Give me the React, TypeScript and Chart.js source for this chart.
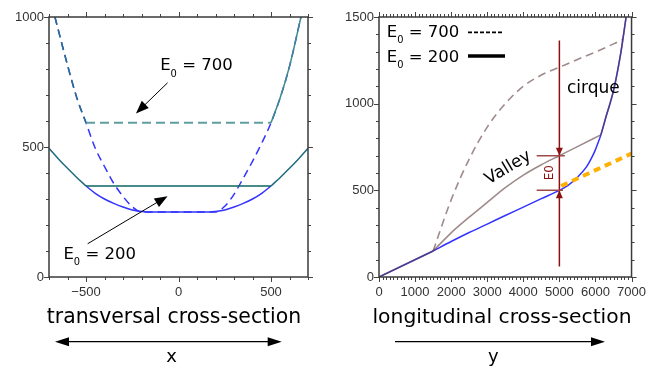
import React, { useEffect, useRef } from "react";
import { Chart, registerables } from "chart.js";
Chart.register(...registerables);

const TICK_FONT = { family: "'Liberation Sans', Arial, sans-serif", size: 13 };
const TXT = "'DejaVu Sans', sans-serif";

// ---------- transversal cross-section (left) ----------
const transXTicks = [-500, 0, 500];
const transYTicks = [0, 500, 1000];
// bedrock for E0 = 700 (blue dashed)
const trans700X = [-668, -600, -550, -500, -450, -400, -350, -300, -250, -200, 0, 200, 250, 300, 350, 400, 450, 500, 550, 600, 662];
const trans700Y = [1000, 815, 690, 593, 495, 425, 360, 310, 270, 250, 250, 250, 272, 318, 380, 445, 515, 593, 690, 810, 1000];
// bedrock for E0 = 200 (blue solid)
const trans200X = [-500, -450, -400, -350, -300, -250, -200, -170, 0, 170, 200, 250, 300, 350, 400, 450, 500];
const trans200Y = [350, 322, 300, 283, 269, 258, 252, 250, 250, 250, 252, 258, 269, 283, 300, 322, 350];
// valley walls, E0 = 200
const wallLX = [-700, -650, -600, -550, -500];
const wallLY = [495, 455, 418, 383, 350];
const wallRX = [500, 550, 600, 650, 700];
const wallRY = [350, 383, 418, 455, 495];
// ice surfaces
const surf200X = [-500, 500];
const surf200Y = [350, 350];
const surf700X = [-500, 500];
const surf700Y = [593, 593];
// valley walls, E0 = 700
const wall700LX = [-668, -600, -550, -500];
const wall700LY = [1000, 815, 690, 593];
const wall700RX = [500, 550, 600, 662];
const wall700RY = [593, 690, 810, 1000];

// ---------- longitudinal cross-section (right) ----------
const longXTicks = [0, 1000, 2000, 3000, 4000, 5000, 6000, 7000];
const longYTicks = [0, 500, 1000, 1500];
const lowerX = [0, 1500];
const lowerY = [0, 150];
const bedX = [1500, 2000, 2500, 3000, 3500, 4000, 4500, 5000, 5250, 5500, 5750, 5900, 6000, 6100, 6150, 6300, 6500, 6700, 6850];
const bedY = [150, 205, 257, 305, 355, 403, 452, 500, 530, 575, 635, 690, 735, 790, 820, 930, 1075, 1290, 1500];
const valley200X = [1500, 2000, 2500, 3000, 3500, 4000, 4500, 5000, 5500, 6150];
const valley200Y = [150, 255, 345, 430, 515, 588, 648, 700, 752, 820];
const cirqueX = [6150, 6300, 6500, 6700, 6850];
const cirqueY = [820, 930, 1075, 1290, 1500];
const valley700X = [1500, 2000, 2500, 3000, 3500, 4000, 4500, 5000, 5500, 6000, 6500, 6765];
const valley700Y = [150, 445, 680, 865, 1000, 1100, 1165, 1210, 1255, 1298, 1345, 1372];
const lineX = [5050, 7000];
const lineY = [525, 712];
const markX = [5000, 5000];
const markY = [60, 1365];
const tickTopX = [4370, 5150];
const tickTopY = [700, 700];
const tickBotX = [4370, 5100];
const tickBotY = [500, 500];

function range(a: number, b: number, s: number) {
  const r: number[] = [];
  for (let v = a; v <= b + 1e-9; v += s) r.push(v);
  return r;
}

function pts(xs: number[], ys: number[]) {
  return xs.map((x, i) => ({ x, y: ys[i] }));
}

function ds(xs: number[], ys: number[], color: string, width: number, dash: number[], order: number, smooth = true) {
  return {
    data: pts(xs, ys),
    borderColor: color,
    borderWidth: width,
    borderDash: dash,
    pointRadius: 0,
    showLine: true,
    fill: false,
    order,
    tension: 0,
    cubicInterpolationMode: smooth ? "monotone" : "default",
  };
}

const fmt = (v: number) => (v < 0 ? "\u2212" + Math.abs(v) : String(v));

function scales(xmin: number, xmax: number, ymin: number, ymax: number, xt: number[], yt: number[]) {
  return {
    x: {
      type: "linear",
      position: "bottom",
      min: xmin,
      max: xmax,
      grid: { display: false, drawTicks: false },
      border: { display: false },
      afterBuildTicks: (s: any) => {
        s.ticks = xt.map((v) => ({ value: v }));
      },
      afterFit: (s: any) => {
        s.height = 30;
      },
      ticks: { font: TICK_FONT, color: "#333", padding: 8, autoSkip: false, maxRotation: 0, minRotation: 0, callback: (v: any) => fmt(Number(v)) },
    },
    y: {
      type: "linear",
      position: "left",
      min: ymin,
      max: ymax,
      grid: { display: false, drawTicks: false },
      border: { display: false },
      afterBuildTicks: (s: any) => {
        s.ticks = yt.map((v) => ({ value: v }));
      },
      afterFit: (s: any) => {
        s.width = 49;
      },
      ticks: { font: TICK_FONT, color: "#333", padding: 5, autoSkip: false, callback: (v: any) => fmt(Number(v)) },
    },
  };
}

function drawFrame(chart: any, xMinor: number[], xMajor: number[], yMinor: number[], yMajor: number[]) {
  const { ctx, chartArea: a } = chart;
  const sx = chart.scales.x;
  const sy = chart.scales.y;
  ctx.save();
  ctx.strokeStyle = "#444";
  ctx.lineWidth = 1;
  ctx.beginPath();
  const xt = (v: number, len: number) => {
    const p = Math.round(sx.getPixelForValue(v)) + 0.5;
    ctx.moveTo(p, a.top);
    ctx.lineTo(p, a.top - len);
    ctx.moveTo(p, a.bottom);
    ctx.lineTo(p, a.bottom + len);
  };
  const yt = (v: number, len: number) => {
    const p = Math.round(sy.getPixelForValue(v)) + 0.5;
    ctx.moveTo(a.left, p);
    ctx.lineTo(a.left - len, p);
    ctx.moveTo(a.right, p);
    ctx.lineTo(a.right + len, p);
  };
  xMinor.forEach((v) => xt(v, 3));
  xMajor.forEach((v) => xt(v, 5));
  yMinor.forEach((v) => yt(v, 3));
  yMajor.forEach((v) => yt(v, 5));
  ctx.stroke();
  ctx.lineWidth = 1.5;
  ctx.strokeStyle = "#3a3a3a";
  ctx.strokeRect(a.left, a.top, a.right - a.left, a.bottom - a.top);
  ctx.restore();
}

function head(ctx: any, x: number, y: number, ang: number, hl: number, hw: number) {
  const c = Math.cos(ang), s = Math.sin(ang);
  ctx.beginPath();
  ctx.moveTo(x, y);
  ctx.lineTo(x - hl * c + hw * s, y - hl * s - hw * c);
  ctx.lineTo(x - hl * c - hw * s, y - hl * s + hw * c);
  ctx.closePath();
  ctx.fill();
}

function arrow(ctx: any, x1: number, y1: number, x2: number, y2: number, hl: number, hw: number, lw: number, color: string, both = false) {
  const ang = Math.atan2(y2 - y1, x2 - x1);
  const c = Math.cos(ang), s = Math.sin(ang);
  ctx.save();
  ctx.strokeStyle = color;
  ctx.fillStyle = color;
  ctx.lineWidth = lw;
  ctx.beginPath();
  const sx = both ? x1 + c * hl * 0.8 : x1;
  const sy = both ? y1 + s * hl * 0.8 : y1;
  ctx.moveTo(sx, sy);
  ctx.lineTo(x2 - c * hl * 0.8, y2 - s * hl * 0.8);
  ctx.stroke();
  head(ctx, x2, y2, ang, hl, hw);
  if (both) head(ctx, x1, y1, ang + Math.PI, hl, hw);
  ctx.restore();
}

function drawE0(ctx: any, x: number, y: number, rest: string, size: number) {
  ctx.save();
  ctx.fillStyle = "#000";
  ctx.textAlign = "left";
  ctx.textBaseline = "alphabetic";
  ctx.font = `${size}px ${TXT}`;
  ctx.fillText("E", x, y);
  let w = ctx.measureText("E").width;
  ctx.font = `${size * 0.6}px ${TXT}`;
  ctx.fillText("0", x + w, y + size * 0.4);
  w += ctx.measureText("0").width;
  ctx.font = `${size}px ${TXT}`;
  ctx.fillText(rest, x + w, y);
  const total = w + ctx.measureText(rest).width;
  ctx.restore();
  return total;
}

function caption(ctx: any, text: string, cx: number, y: number, size: number) {
  ctx.save();
  ctx.fillStyle = "#000";
  ctx.font = `${size}px ${TXT}`;
  ctx.textAlign = "center";
  ctx.textBaseline = "alphabetic";
  ctx.fillText(text, cx, y);
  ctx.restore();
}

const leftPlugin = {
  id: "leftDecor",
  afterDraw(chart: any) {
    const { ctx } = chart;
    const sx = chart.scales.x, sy = chart.scales.y;
    const X = (v: number) => sx.getPixelForValue(v);
    const Y = (v: number) => sy.getPixelForValue(v);
    drawFrame(chart, range(-700, 700, 100), transXTicks, range(0, 1000, 100), transYTicks);
    drawE0(ctx, X(-99), Y(795), " = 700", 16.5);
    arrow(ctx, X(-59), Y(747), X(-230), Y(629), 13, 5, 1, "#000");
    drawE0(ctx, X(-622), Y(71), " = 200", 16.5);
    arrow(ctx, X(-491), Y(128), X(-59), Y(311), 13, 5, 1, "#000");
    caption(ctx, "transversal cross-section", 174, 323, 20.4);
    arrow(ctx, 55, 341.7, 281.7, 341.7, 14, 4.5, 1.3, "#000", true);
    caption(ctx, "x", 171.7, 361.5, 18);
  },
};

const rightPlugin = {
  id: "rightDecor",
  afterDraw(chart: any) {
    const { ctx, chartArea: a } = chart;
    const sx = chart.scales.x, sy = chart.scales.y;
    const X = (v: number) => sx.getPixelForValue(v);
    const Y = (v: number) => sy.getPixelForValue(v);
    drawFrame(chart, range(0, 7000, 100), longXTicks, range(0, 1500, 100), longYTicks);
    // red arrowheads
    ctx.save();
    ctx.fillStyle = "#8b1010";
    head(ctx, X(5000), Y(700), Math.PI / 2, 8, 3.5);
    head(ctx, X(5000), Y(500), -Math.PI / 2, 8, 3.5);
    // E0 label
    ctx.translate(X(4730), Y(602));
    ctx.rotate(-Math.PI / 2);
    ctx.font = `12px ${TXT}`;
    ctx.textAlign = "center";
    ctx.textBaseline = "middle";
    ctx.fillText("E0", 0, 0);
    ctx.restore();
    // Valley
    ctx.save();
    ctx.translate(X(3580), Y(630));
    ctx.rotate((-31 * Math.PI) / 180);
    ctx.font = `17px ${TXT}`;
    ctx.fillStyle = "#000";
    ctx.textAlign = "center";
    ctx.textBaseline = "middle";
    ctx.fillText("Valley", 0, 0);
    ctx.restore();
    // cirque
    ctx.save();
    ctx.font = `17px ${TXT}`;
    ctx.fillStyle = "#000";
    ctx.textAlign = "left";
    ctx.textBaseline = "alphabetic";
    ctx.fillText("cirque", X(5210), Y(1060));
    ctx.restore();
    // legend
    const lx = a.left + 7.7;
    drawE0(ctx, lx, a.top + 19.7, " = 700", 16.5);
    drawE0(ctx, lx, a.top + 44.7, " = 200", 16.5);
    ctx.save();
    ctx.strokeStyle = "#000";
    ctx.lineWidth = 1.7;
    ctx.setLineDash([4, 2]);
    ctx.beginPath();
    ctx.moveTo(138, a.top + 15.3);
    ctx.lineTo(174, a.top + 15.3);
    ctx.stroke();
    ctx.setLineDash([]);
    ctx.lineWidth = 3.5;
    ctx.beginPath();
    ctx.moveTo(138, a.top + 39);
    ctx.lineTo(175, a.top + 39);
    ctx.stroke();
    ctx.restore();
    caption(ctx, "longitudinal cross-section", 172, 323, 20.3);
    arrow(ctx, 65, 341.7, 275, 341.7, 14, 4.5, 1.3, "#000");
    caption(ctx, "y", 163.3, 361.5, 18);
  },
};

function leftConfig(): any {
  const blue = "#3333ff";
  return {
    type: "scatter",
    data: {
      datasets: [
        ds(trans700X, trans700Y, blue, 1.5, [8, 5], 20),
        ds(trans200X, trans200Y, blue, 1.5, [], 19),
        ds(wallLX, wallLY, "#1f6b80", 1.5, [], 10),
        ds(wallRX, wallRY, "#1f6b80", 1.5, [], 10),
        ds(surf200X, surf200Y, "#0b6464", 1.3, [], 9, false),
        ds(surf700X, surf700Y, "#5f9ea0", 2, [9, 5], 9, false),
        ds(wall700LX, wall700LY, "#256f8a", 1.5, [8, 5], 8),
        ds(wall700RX, wall700RY, "#3d8a8f", 1.5, [], 8),
      ],
    },
    options: {
      animation: false,
      responsive: false,
      events: [],
      layout: { padding: { left: 0, right: 22, top: 17, bottom: 61 } },
      plugins: { legend: { display: false }, tooltip: { enabled: false } },
      scales: scales(-700, 700, 0, 1000, transXTicks, transYTicks),
    },
    plugins: [leftPlugin],
  };
}

function rightConfig(): any {
  const brown = "rgba(97,60,60,0.6)";
  const blue = "#3333ff";
  return {
    type: "scatter",
    data: {
      datasets: [
        ds(lowerX, lowerY, blue, 1.5, [], 21, false),
        ds(bedX, bedY, blue, 1.5, [], 20),
        ds(lowerX, lowerY, brown, 1.6, [], 19, false),
        ds(valley200X, valley200Y, brown, 1.6, [], 19),
        ds(cirqueX, cirqueY, brown, 1.6, [], 19),
        ds(valley700X, valley700Y, brown, 1.6, [8, 5], 18),
        ds(lineX, lineY, "#ffb000", 4, [7, 5], 17, false),
        ds(markX, markY, "#8b1010", 1.5, [], 16, false),
        ds(tickTopX, tickTopY, "#9e4a4a", 1.5, [], 15, false),
        ds(tickBotX, tickBotY, "#9e4a4a", 1.5, [], 15, false),
      ],
    },
    options: {
      animation: false,
      responsive: false,
      events: [],
      layout: { padding: { left: 0, right: 16, top: 17, bottom: 61 } },
      plugins: { legend: { display: false }, tooltip: { enabled: false } },
      scales: scales(0, 7000, 0, 1500, longXTicks, longYTicks),
    },
    plugins: [rightPlugin],
  };
}

export default function App() {
  const leftRef = useRef<HTMLCanvasElement>(null);
  const rightRef = useRef<HTMLCanvasElement>(null);
  useEffect(() => {
    const c1 = new Chart(leftRef.current as HTMLCanvasElement, leftConfig());
    const c2 = new Chart(rightRef.current as HTMLCanvasElement, rightConfig());
    return () => {
      c1.destroy();
      c2.destroy();
    };
  }, []);
  return (
    <div style={{ position: "absolute", left: 0, top: 0, width: 654, height: 368, background: "#fff" }}>
      <canvas ref={leftRef} width={330} height={368} style={{ position: "absolute", left: 0, top: 0, width: 330, height: 368 }} />
      <canvas ref={rightRef} width={324} height={368} style={{ position: "absolute", left: 330, top: 0, width: 324, height: 368 }} />
    </div>
  );
}
